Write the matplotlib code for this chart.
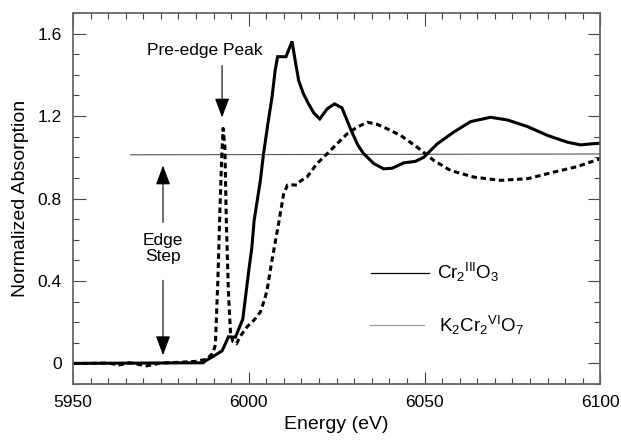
import matplotlib
matplotlib.use("Agg")
import matplotlib.pyplot as plt
from matplotlib.lines import Line2D
from matplotlib.ticker import MultipleLocator

plt.rcParams['font.family'] = ['Liberation Sans', 'DejaVu Sans']
plt.rcParams['mathtext.default'] = 'regular'

# Cr2(III)O3 (solid)
cr2o3_e = [5950, 5987, 5988, 5990, 5992.4, 5993.2, 5994.2, 5996.2, 5998.3, 6000.0,
           6000.9, 6001.5, 6003.3, 6004.2, 6005.5, 6006.6, 6007.5, 6008.2, 6010.6,
           6012.3, 6013.2, 6014.2, 6015.5, 6017.0, 6018.5, 6020.2, 6022.3, 6024.4,
           6026.5, 6028.9, 6031.0, 6032.7, 6035.6, 6038.4, 6040.8, 6044.1, 6047.4,
           6049.8, 6053.6, 6058.3, 6063.1, 6068.8, 6073.6, 6079.3, 6085.0, 6090.7,
           6094.4, 6097.3, 6100]
cr2o3_a = [0.0, 0.003, 0.016, 0.035, 0.061, 0.09, 0.129, 0.127, 0.215, 0.45,
           0.565, 0.69, 0.888, 1.017, 1.17, 1.29, 1.42, 1.488, 1.488,
           1.562, 1.47, 1.372, 1.31, 1.259, 1.215, 1.186, 1.235, 1.259,
           1.24, 1.14, 1.06, 1.017, 0.969, 0.944, 0.947, 0.973, 0.98,
           1.0, 1.065, 1.122, 1.173, 1.194, 1.181, 1.149, 1.106, 1.073,
           1.06, 1.065, 1.068]

# K2Cr2(VI)O7 (dashed)
k2cr2o7_e = [5950, 5955, 5960, 5963, 5966, 5971, 5975, 5980, 5985, 5988, 5989.8,
             5990.5, 5991.2, 5991.8, 5992.3, 5992.7, 5993.2, 5993.6, 5994.2, 5994.8,
             5995.5, 5996.5, 5997.5, 5999.5, 6001.5, 6003.3, 6004.5, 6005.2, 6006.6,
             6008.5, 6009.9, 6011.0, 6012.5, 6013.7, 6014.7, 6016.6, 6019.4, 6022.3,
             6025.1, 6028.0, 6030.8, 6033.7, 6036.5, 6039.4, 6043.2, 6047.9, 6052.6,
             6057.4, 6064.0, 6071.6, 6079.3, 6086.8, 6093.5, 6100]
k2cr2o7_a = [0.0, 0.0, 0.002, -0.008, 0.003, -0.012, 0.002, 0.005, 0.01, 0.02, 0.05,
             0.09, 0.4, 0.75, 1.0, 1.14, 1.05, 0.7, 0.35, 0.15,
             0.105, 0.095, 0.13, 0.177, 0.21, 0.25, 0.31, 0.355, 0.5,
             0.68, 0.82, 0.865, 0.866, 0.865, 0.885, 0.905, 0.969, 1.017,
             1.065, 1.114, 1.146, 1.17, 1.16, 1.138, 1.106, 1.049, 0.985,
             0.936, 0.904, 0.888, 0.896, 0.928, 0.955, 0.993]

# edge-step reference line
step_e = [5966.4, 6100]
step_a = [1.012, 1.016]

fig = plt.figure(figsize=(6.21, 4.42), dpi=100)
ax = fig.add_axes([0.1176, 0.1312, 0.849, 0.8394])

ax.plot(step_e, step_a, color='#555555', lw=0.8)
ax.plot(cr2o3_e, cr2o3_a, color='black', lw=2.2, solid_joinstyle='miter')
ax.plot(k2cr2o7_e, k2cr2o7_a, color='black', lw=2.2, linestyle=(0, (1.8, 1.2)))

ax.set_xlim(5950, 6100)
ax.set_ylim(-0.1, 1.7)
ax.xaxis.set_major_locator(MultipleLocator(50))
ax.xaxis.set_minor_locator(MultipleLocator(5))
ax.set_yticks([0, 0.4, 0.8, 1.2, 1.6])
ax.set_yticklabels(['0', '0.4', '0.8', '1.2', '1.6'])
ax.yaxis.set_minor_locator(MultipleLocator(0.1))
ax.tick_params(which='both', direction='in', top=True, right=True,
               color='#444444', width=0.8, labelsize=12.5, pad=8)
ax.tick_params(which='major', length=9)
ax.tick_params(which='minor', length=4.3)
for s in ax.spines.values():
    s.set_color('#666666')
    s.set_linewidth(1.3)

ax.set_xlabel('Energy (eV)', fontsize=14, labelpad=4)
ax.set_ylabel('Normalized Absorption', fontsize=14, labelpad=6)

arrow = dict(arrowstyle='-|>,head_length=1.2,head_width=0.45', color='black',
             lw=0.8, shrinkA=0, shrinkB=0)
ax.text(5987.5, 1.517, 'Pre-edge Peak', ha='center', va='center', fontsize=12.5)
ax.annotate('', xy=(5992.4, 1.193), xytext=(5992.4, 1.445), arrowprops=arrow)
ax.text(5975.6, 0.556, 'Edge\nStep', ha='center', va='center', fontsize=12.5,
        linespacing=1.05)
ax.annotate('', xy=(5975.6, 0.96), xytext=(5975.6, 0.684), arrowprops=arrow)
ax.annotate('', xy=(5975.6, 0.04), xytext=(5975.6, 0.403), arrowprops=arrow)

ax.add_line(Line2D([0.5655, 0.6755], [0.300, 0.300], transform=ax.transAxes,
                   color='black', lw=0.9))
ax.add_line(Line2D([0.5636, 0.666], [0.158, 0.158], transform=ax.transAxes,
                   color='#999999', lw=0.9))
ax.text(0.690, 0.300, r'Cr$_2$$^{III}$O$_3$', transform=ax.transAxes,
        ha='left', va='center', fontsize=13.5)
ax.text(0.695, 0.158, r'K$_2$Cr$_2$$^{VI}$O$_7$', transform=ax.transAxes,
        ha='left', va='center', fontsize=13.5)

fig.savefig('out.png', dpi=100)
